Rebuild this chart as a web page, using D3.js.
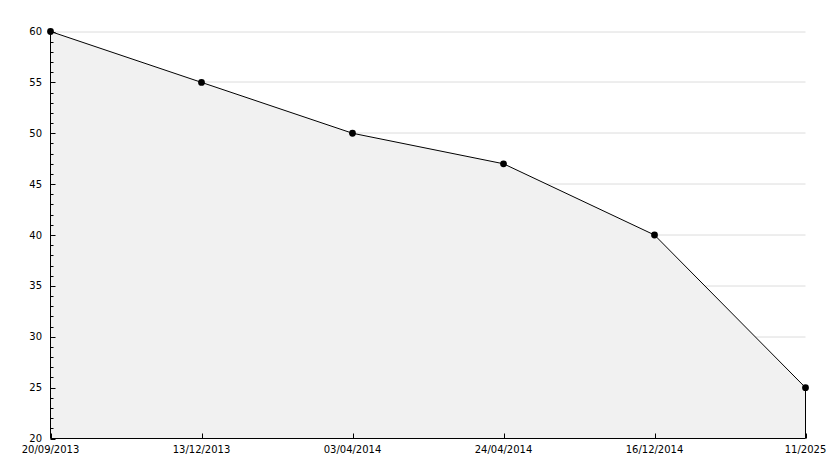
<!DOCTYPE html>
<html><head><meta charset="utf-8">
<script src="https://cdn.jsdelivr.net/npm/d3@7"></script>
<style>body{margin:0;background:#fff}svg{display:block}text{font-family:"DejaVu Sans",Verdana,sans-serif;font-size:10px;fill:#000}</style>
</head><body><svg id="c" width="834" height="468"></svg>
<script>
const categories = ["20/09/2013","13/12/2013","03/04/2014","24/04/2014","16/12/2014","11/2025"];
const values = [60,55,50,47,40,25];
const yTicks = [20,25,30,35,40,45,50,55,60];

const svg = d3.select("#c");
const L=50.5, R=805.5, T=31.5, B=438.5;
const x = d3.scalePoint().domain(categories).range([L,R]);
const y = d3.scaleLinear().domain([20,60]).range([B,T]);

// grid
svg.append("g").selectAll("line").data(yTicks.slice(1)).join("line")
  .attr("x1",L).attr("x2",R).attr("y1",d=>Math.round(y(d))).attr("y2",d=>Math.round(y(d)))
  .attr("stroke","#dcdcdc").attr("stroke-width",1);

// area
const data = categories.map((c,i)=>({c,v:values[i]}));
svg.append("path").datum(data)
  .attr("d", d3.area().x(d=>x(d.c)).y0(B).y1(d=>y(d.v)))
  .attr("fill","#f1f1f1").attr("stroke","none");
svg.append("line").attr("x1",R).attr("x2",R).attr("y1",y(values[values.length-1])).attr("y2",B).attr("stroke","#000");
svg.append("path").datum(data)
  .attr("d", d3.line().x(d=>x(d.c)).y(d=>y(d.v)))
  .attr("fill","none").attr("stroke","#000").attr("stroke-width",1);

// y axis
const ya = svg.append("g");
ya.append("line").attr("x1",L).attr("x2",L).attr("y1",T).attr("y2",B).attr("stroke","#000");
const minor = d3.range(20,61,1);
ya.selectAll("line.m").data(minor).join("line").attr("class","m")
  .attr("x1",L).attr("x2",d=>L+(d%5===0?5:3)).attr("y1",d=>Math.round(y(d))).attr("y2",d=>Math.round(y(d)))
  .attr("stroke","#000").attr("transform","translate(0,0.5)");
ya.selectAll("text").data(yTicks).join("text")
  .attr("x",42).attr("y",d=>y(d)).attr("dy","0.35em").attr("text-anchor","end").text(d=>d);

// x axis
const xa = svg.append("g");
xa.append("line").attr("x1",L).attr("x2",R).attr("y1",B).attr("y2",B).attr("stroke","#000");
xa.selectAll("line.t").data(categories).join("line").attr("class","t")
  .attr("x1",d=>Math.round(x(d))+0.5).attr("x2",d=>Math.round(x(d))+0.5).attr("y1",B).attr("y2",B-5).attr("stroke","#000");
xa.selectAll("text").data(categories).join("text")
  .attr("x",d=>x(d)).attr("y",B+11).attr("dy","0.35em").attr("text-anchor","middle").text(d=>d);

// markers
svg.append("g").selectAll("path").data(data).join("path")
  .attr("transform",d=>`translate(${x(d.c)},${y(d.v)})`)
  .attr("d", d3.symbol(d3.symbolCircle, 36)).attr("fill","#000");
</script></body></html>
